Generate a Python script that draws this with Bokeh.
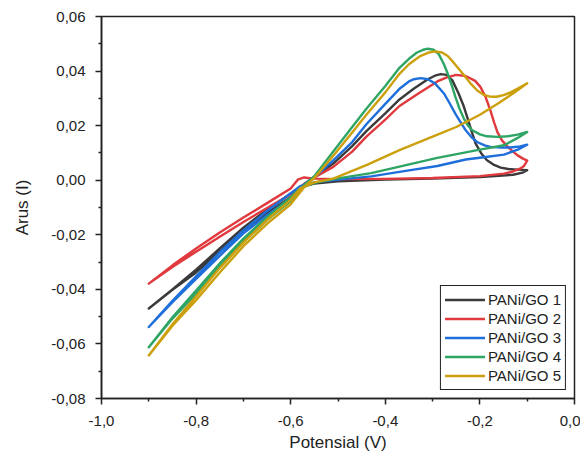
from bokeh.plotting import figure
from bokeh.models import FixedTicker, Legend, LegendItem, Range1d
from bokeh.embed import file_html
from bokeh.resources import INLINE

# ---- tick definitions ----
x_ticks = [-1.0, -0.8, -0.6, -0.4, -0.2, 0.0]
x_tick_labels = ["-1,0", "-0,8", "-0,6", "-0,4", "-0,2", "0,0"]
x_minor = [-0.9, -0.7, -0.5, -0.3, -0.1]
y_ticks = [-0.08, -0.06, -0.04, -0.02, 0.0, 0.02, 0.04, 0.06]
y_tick_labels = ["-0,08", "-0,06", "-0,04", "-0,02", "0,00", "0,02", "0,04", "0,06"]
y_minor = [-0.07, -0.05, -0.03, -0.01, 0.01, 0.03, 0.05]

series_names = ["PANi/GO 1", "PANi/GO 2", "PANi/GO 3", "PANi/GO 4", "PANi/GO 5"]

# ---- PANi/GO 1 (forward scan then reverse scan) ----
go1_x = [-0.90, -0.85, -0.80, -0.75, -0.70, -0.65, -0.60, -0.57, -0.55, -0.51,
         -0.47, -0.44, -0.40, -0.37, -0.34, -0.31, -0.295, -0.283, -0.27, -0.258,
         -0.245, -0.235, -0.227, -0.218, -0.209, -0.197, -0.185, -0.17, -0.156, -0.14,
         -0.121, -0.10,
         -0.11, -0.13, -0.16, -0.20, -0.30, -0.40, -0.50, -0.55, -0.58, -0.60,
         -0.65, -0.70, -0.75, -0.80, -0.85, -0.90]
go1_y = [-0.0470, -0.0402, -0.0338, -0.0262, -0.0185, -0.0120, -0.0062, -0.0012, 0.0012, 0.0061,
         0.0125, 0.0180, 0.0245, 0.0296, 0.0335, 0.0370, 0.0383, 0.0389, 0.0386, 0.0365,
         0.0318, 0.0275, 0.0232, 0.0182, 0.0134, 0.0098, 0.0073, 0.0056, 0.0046, 0.0041,
         0.0039, 0.0037,
         0.0028, 0.0020, 0.0016, 0.0012, 0.0006, 0.0002, -0.0004, -0.0012, -0.0025, -0.0050,
         -0.0108, -0.0174, -0.0250, -0.0328, -0.0400, -0.0470]

# ---- PANi/GO 2 ----
go2_x = [-0.90, -0.85, -0.80, -0.75, -0.70, -0.65, -0.60, -0.57, -0.55, -0.51,
         -0.47, -0.44, -0.40, -0.37, -0.33, -0.29, -0.27, -0.25, -0.23, -0.21,
         -0.199, -0.188, -0.178, -0.17, -0.163, -0.153, -0.142, -0.13, -0.121, -0.11,
         -0.10,
         -0.107, -0.114, -0.13, -0.149, -0.20, -0.30, -0.40, -0.50, -0.55, -0.572,
         -0.585, -0.60, -0.65, -0.70, -0.75, -0.80, -0.85, -0.90]
go2_y = [-0.0379, -0.0318, -0.0262, -0.0207, -0.0153, -0.0102, -0.0052, -0.0012, 0.0010, 0.0049,
         0.0105, 0.0160, 0.0222, 0.0272, 0.0318, 0.0362, 0.0377, 0.0386, 0.0382, 0.0364,
         0.0342, 0.0305, 0.0257, 0.0212, 0.0176, 0.0145, 0.0124, 0.0105, 0.0092, 0.0080,
         0.0072,
         0.0052, 0.0043, 0.0032, 0.0024, 0.0015, 0.0008, 0.0005, 0.0004, 0.0006, 0.0010,
         0.0002, -0.0030, -0.0084, -0.0137, -0.0192, -0.0250, -0.0312, -0.0379]

# ---- PANi/GO 3 ----
go3_x = [-0.90, -0.85, -0.80, -0.75, -0.70, -0.65, -0.60, -0.57, -0.55, -0.51,
         -0.47, -0.44, -0.40, -0.37, -0.35, -0.34, -0.325, -0.31, -0.295, -0.276,
         -0.264, -0.252, -0.24, -0.23, -0.218, -0.206, -0.19, -0.178, -0.155, -0.135,
         -0.115, -0.10,
         -0.12, -0.149, -0.192, -0.23, -0.29, -0.35, -0.43, -0.50, -0.55, -0.58,
         -0.60, -0.65, -0.70, -0.75, -0.80, -0.85, -0.90]
go3_y = [-0.0538, -0.0447, -0.0362, -0.0277, -0.0195, -0.0128, -0.0066, -0.0013, 0.0010, 0.0073,
         0.0140, 0.0205, 0.0280, 0.0335, 0.0362, 0.0370, 0.0374, 0.0370, 0.0355, 0.0318,
         0.0282, 0.0244, 0.0210, 0.0183, 0.0158, 0.0140, 0.0128, 0.0122, 0.0120, 0.0120,
         0.0124, 0.0130,
         0.0112, 0.0094, 0.0084, 0.0076, 0.0052, 0.0036, 0.0014, 0.0002, -0.0008, -0.0022,
         -0.0048, -0.0113, -0.0184, -0.0264, -0.0352, -0.0442, -0.0538]

# ---- PANi/GO 4 ----
go4_x = [-0.90, -0.85, -0.80, -0.75, -0.70, -0.65, -0.60, -0.57, -0.55, -0.51,
         -0.47, -0.44, -0.40, -0.37, -0.35, -0.333, -0.32, -0.31, -0.298, -0.287,
         -0.276, -0.269, -0.26, -0.252, -0.243, -0.234, -0.225, -0.216, -0.20, -0.185,
         -0.163, -0.142, -0.12, -0.10,
         -0.12, -0.149, -0.20, -0.29, -0.37, -0.43, -0.51, -0.55, -0.58, -0.60,
         -0.65, -0.70, -0.75, -0.80, -0.85, -0.90]
go4_y = [-0.0612, -0.0507, -0.0416, -0.0318, -0.0226, -0.0146, -0.0076, -0.0015, 0.0015, 0.0105,
         0.0195, 0.0262, 0.0345, 0.0412, 0.0445, 0.0468, 0.0478, 0.0482, 0.0478, 0.0462,
         0.0425, 0.0395, 0.0350, 0.0306, 0.0262, 0.0226, 0.0200, 0.0183, 0.0168, 0.0161,
         0.0159, 0.0161, 0.0167, 0.0177,
         0.0155, 0.0128, 0.0112, 0.0082, 0.0050, 0.0026, 0.0004, -0.0010, -0.0030, -0.0062,
         -0.0135, -0.0214, -0.0305, -0.0404, -0.0502, -0.0612]

# ---- PANi/GO 5 ----
go5_x = [-0.90, -0.85, -0.80, -0.75, -0.70, -0.65, -0.60, -0.57, -0.55, -0.51,
         -0.47, -0.44, -0.40, -0.37, -0.35, -0.326, -0.31, -0.295, -0.28, -0.268,
         -0.255, -0.24, -0.22, -0.205, -0.192, -0.18, -0.165, -0.15, -0.135, -0.118,
         -0.10,
         -0.13, -0.16, -0.20, -0.25, -0.30, -0.37, -0.44, -0.51, -0.55, -0.58,
         -0.60, -0.65, -0.70, -0.75, -0.80, -0.85, -0.90]
go5_y = [-0.0642, -0.0533, -0.0440, -0.0338, -0.0242, -0.0160, -0.0088, -0.0022, 0.0008, 0.0090,
         0.0175, 0.0240, 0.0322, 0.0390, 0.0425, 0.0455, 0.0467, 0.0472, 0.0468, 0.0455,
         0.0430, 0.0398, 0.0355, 0.0328, 0.0313, 0.0307, 0.0306, 0.0312, 0.0322, 0.0338,
         0.0355,
         0.0318, 0.0283, 0.0240, 0.0195, 0.0160, 0.0110, 0.0055, 0.0006, -0.0008, -0.0030,
         -0.0072, -0.0145, -0.0228, -0.0322, -0.0425, -0.0528, -0.0642]

colors = ["#3a3a3a", "#E0393E", "#1F6FDB", "#2EA565", "#CBA00C"]

xs = [go1_x, go2_x, go3_x, go4_x, go5_x]
ys = [go1_y, go2_y, go3_y, go4_y, go5_y]

FONT = "Liberation Sans"

p = figure(width=580, height=457,
           x_range=Range1d(-1.0, 0.0), y_range=Range1d(-0.08, 0.06),
           output_backend="svg", toolbar_location=None,
           min_border_left=101, min_border_right=6, min_border_top=16, min_border_bottom=59,
           x_axis_label="Potensial (V)", y_axis_label="Arus (I)")

p.background_fill_color = "white"
p.border_fill_color = "white"
p.xgrid.visible = False
p.ygrid.visible = False
p.outline_line_color = "#222222"
p.outline_line_width = 1.5
p.outline_line_alpha = 1.0

renderers = []
for x, y, c in zip(xs, ys, colors):
    assert len(x) == len(y)
    r = p.line(x, y, line_color=c, line_width=2.4, line_join="round", line_cap="round")
    renderers.append(r)

# axes
p.xaxis.ticker = FixedTicker(ticks=x_ticks, minor_ticks=x_minor)
p.yaxis.ticker = FixedTicker(ticks=y_ticks, minor_ticks=y_minor)
p.xaxis.major_label_overrides = {t: l for t, l in zip(x_ticks, x_tick_labels)}
p.yaxis.major_label_overrides = {t: l for t, l in zip(y_ticks, y_tick_labels)}

for ax in (p.xaxis, p.yaxis):
    ax.axis_line_color = "#222222"
    ax.axis_line_width = 1.6
    ax.major_tick_line_color = "#222222"
    ax.minor_tick_line_color = "#222222"
    ax.major_tick_line_width = 1.5
    ax.minor_tick_line_width = 1.5
    ax.major_tick_in = 0
    ax.major_tick_out = 6
    ax.minor_tick_in = 0
    ax.minor_tick_out = 3
    ax.major_label_text_font = FONT
    ax.major_label_text_font_size = "15px"
    ax.major_label_text_color = "#222222"
    ax.axis_label_text_font = FONT
    ax.axis_label_text_font_size = "17px"
    ax.axis_label_text_font_style = "normal"
    ax.axis_label_text_color = "#222222"

p.xaxis.major_label_standoff = 11
p.xaxis.axis_label_standoff = 4
p.yaxis.major_label_standoff = 10
p.yaxis.axis_label_standoff = 16

legend = Legend(items=[LegendItem(label=n, renderers=[r]) for n, r in zip(series_names, renderers)],
                location="bottom_right", margin=8, padding=4, spacing=0,
                label_height=19, glyph_height=19, glyph_width=40, label_standoff=3,
                label_text_font=FONT, label_text_font_size="15px", label_text_color="#222222",
                border_line_color="#222222", border_line_width=1, border_line_alpha=1.0,
                background_fill_color="white", background_fill_alpha=1.0)
p.add_layout(legend, "center")

open("out.html", "w").write(file_html(p, INLINE))
